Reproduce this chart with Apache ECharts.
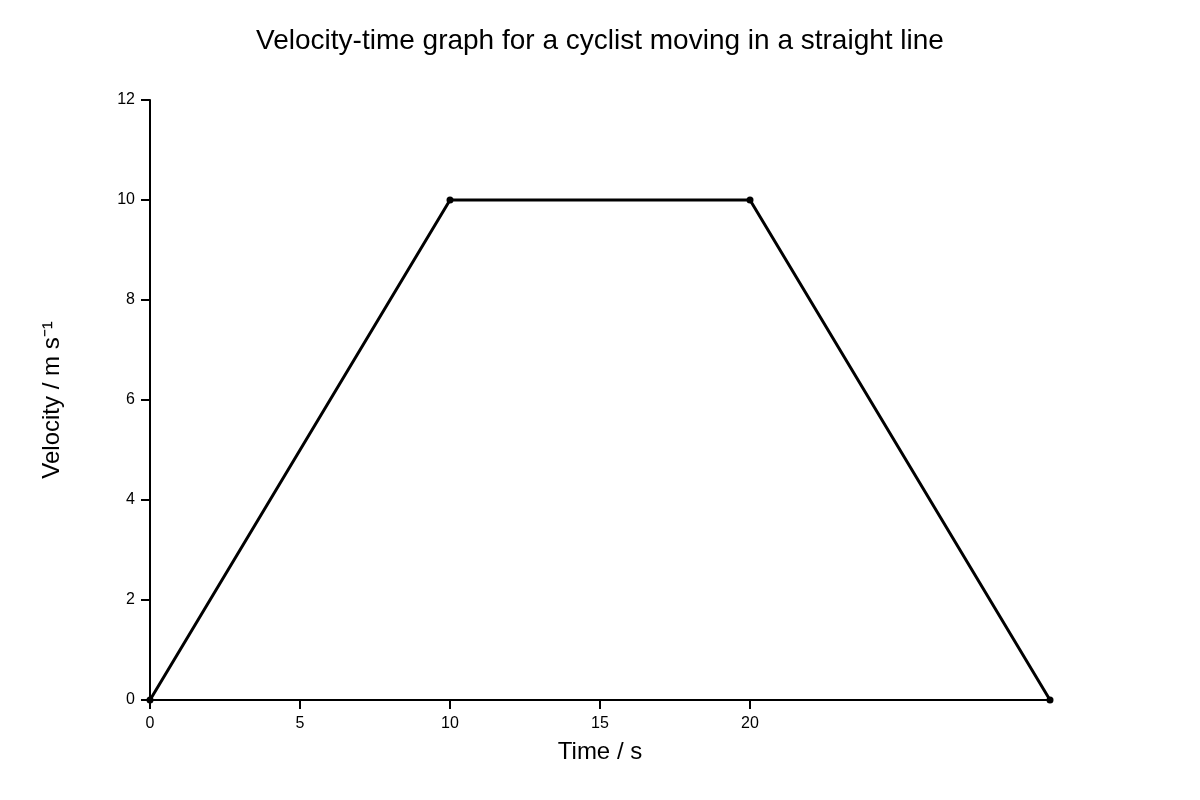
<!DOCTYPE html>
<html><head><meta charset="utf-8">
<script src="https://cdn.jsdelivr.net/npm/echarts@6/dist/echarts.min.js"></script>
<style>html,body{margin:0;padding:0;background:#fff}#c{width:1200px;height:800px}</style>
</head><body><div id="c"></div>
<script>
const times = [0, 10, 20, 30];
const velocities = [0, 10, 10, 0];
const xTicks = [0, 5, 10, 15, 20];
const yTicks = [0, 2, 4, 6, 8, 10, 12];
const titleText = 'Velocity-time graph for a cyclist moving in a straight line';
const xName = 'Time / s';
const yName = 'Velocity / m s\u207B\u00B9';

const chart = echarts.init(document.getElementById('c'));
const font = 'Liberation Sans, Arial, sans-serif';
chart.setOption({
  backgroundColor: '#fff',
  animation: false,
  title: {text: titleText, left: 'center', top: 22,
    textStyle: {fontFamily: font, fontSize: 28, fontWeight: 'normal', color: '#000'}},
  grid: {left: 150, right: 150, top: 100, bottom: 100},
  xAxis: {
    type: 'value', min: 0, max: 30, interval: 5,
    name: xName, nameLocation: 'middle', nameGap: 40,
    nameTextStyle: {fontFamily: font, fontSize: 24, color: '#000'},
    axisLine: {show: true, onZero: false, lineStyle: {color: '#000', width: 2}},
    axisTick: {show: true, length: 9, lineStyle: {color: '#000', width: 2}, customValues: xTicks},
    axisLabel: {fontFamily: font, fontSize: 16, color: '#000', margin: 16, customValues: xTicks},
    splitLine: {show: false}
  },
  yAxis: {
    type: 'value', min: 0, max: 12, interval: 2,
    name: yName, nameLocation: 'middle', nameGap: 86, nameRotate: 90,
    nameTextStyle: {fontFamily: font, fontSize: 24, color: '#000'},
    axisLine: {show: true, onZero: false, lineStyle: {color: '#000', width: 2}},
    axisTick: {show: true, length: 9, lineStyle: {color: '#000', width: 2}, customValues: yTicks},
    axisLabel: {fontFamily: font, fontSize: 16, color: '#000', margin: 15, customValues: yTicks},
    splitLine: {show: false}
  },
  series: [{
    type: 'line',
    data: times.map((t, i) => [t, velocities[i]]),
    lineStyle: {color: '#000', width: 3},
    itemStyle: {color: '#000'},
    symbol: 'circle', symbolSize: 7,
    clip: false
  }]
});
</script></body></html>
